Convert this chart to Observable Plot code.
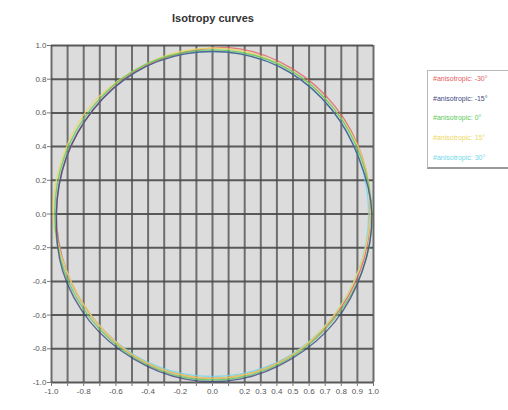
<!DOCTYPE html>
<html>
<head>
<meta charset="utf-8">
<script src="https://cdn.jsdelivr.net/npm/d3@7"></script>
<script src="https://cdn.jsdelivr.net/npm/@observablehq/plot@0.6"></script>
<style>
  html, body { margin: 0; padding: 0; background: #fff; overflow: hidden; }
  #wrap { position: relative; width: 508px; height: 410px; font-family: "Liberation Sans", Arial, sans-serif; }
  #title { position: absolute; left: 0; top: 0; width: 426px; height: 32px; line-height: 36px; text-align: center; font-weight: bold; font-size: 11px; color: #333; }
  #chart { position: absolute; left: 0; top: 32px; }
  #legend { position: absolute; left: 427px; top: 70px; width: 100px; height: 99px; background: #fff; border: 1px solid #b8b8b8; border-bottom: 2px solid #999; box-sizing: border-box; }
  #legend div { position: absolute; left: 5px; font-size: 7px; white-space: nowrap; }
</style>
</head>
<body>
<div id="wrap">
  <div id="title">Isotropy curves</div>
  <div id="chart"></div>
  <div id="legend"></div>
</div>
<script>
// Series names (legend)
const seriesNames = ["#anisotropic: -30°", "#anisotropic: -15°", "#anisotropic: 0°", "#anisotropic: 15°", "#anisotropic: 30°"];
const seriesColors = ["#e46060", "#404a80", "#5cc85c", "#ecd860", "#70d8e8"];

// Curve points (x, y)
const xM30 = [0.98, 0.93, 0.76, 0.50, 0.17, -0.17, -0.49, -0.74, -0.91, -0.97, -0.91, -0.74, -0.49, -0.17, 0.17, 0.49, 0.74, 0.92];
const yM30 = [0.00, 0.34, 0.64, 0.86, 0.98, 0.96, 0.84, 0.62, 0.33, 0.00, -0.33, -0.62, -0.84, -0.96, -0.96, -0.84, -0.63, -0.33];

const xM15 = [0.99, 0.91, 0.74, 0.48, 0.17, -0.17, -0.48, -0.74, -0.91, -0.97, -0.93, -0.76, -0.49, -0.17, 0.17, 0.49, 0.76, 0.93];
const yM15 = [0.00, 0.33, 0.62, 0.84, 0.95, 0.95, 0.84, 0.62, 0.33, 0.00, -0.34, -0.64, -0.86, -0.98, -0.98, -0.86, -0.64, -0.34];

const x0 = [0.99, 0.92, 0.75, 0.49, 0.17, -0.17, -0.49, -0.75, -0.92, -0.98, -0.92, -0.75, -0.49, -0.17, 0.17, 0.49, 0.75, 0.93];
const y0 = [0.00, 0.34, 0.63, 0.85, 0.96, 0.96, 0.85, 0.63, 0.34, 0.00, -0.34, -0.63, -0.85, -0.97, -0.97, -0.85, -0.63, -0.34];

const xP15 = [0.98, 0.93, 0.75, 0.49, 0.17, -0.17, -0.49, -0.76, -0.93, -0.99, -0.91, -0.74, -0.49, -0.17, 0.17, 0.49, 0.74, 0.91];
const yP15 = [0.00, 0.34, 0.63, 0.85, 0.97, 0.97, 0.85, 0.64, 0.34, 0.01, -0.33, -0.62, -0.84, -0.96, -0.96, -0.84, -0.62, -0.33];

const xP30 = [0.97, 0.91, 0.74, 0.48, 0.17, -0.17, -0.48, -0.74, -0.91, -0.97, -0.91, -0.74, -0.48, -0.17, 0.17, 0.48, 0.74, 0.91];
const yP30 = [0.00, 0.33, 0.62, 0.84, 0.95, 0.95, 0.84, 0.62, 0.33, 0.00, -0.33, -0.62, -0.84, -0.95, -0.95, -0.84, -0.62, -0.33];

// Axis ticks
const xGridTicks = [-1.0, -0.9, -0.8, -0.7, -0.6, -0.5, -0.4, -0.3, -0.2, -0.1, 0.0, 0.1, 0.2, 0.3, 0.4, 0.5, 0.6, 0.7, 0.8, 0.9, 1.0];
const xTickLabels = ["-1.0", "-0.8", "-0.6", "-0.4", "-0.2", "0.0", "0.2", "0.3", "0.4", "0.5", "0.6", "0.7", "0.8", "0.9", "1.0"];
const yTicks = [-1.0, -0.8, -0.6, -0.4, -0.2, 0.0, 0.2, 0.4, 0.6, 0.8, 1.0];

const seriesXY = [[xM30, yM30], [xM15, yM15], [x0, y0], [xP15, yP15], [xP30, yP30]];
const rows = [];
seriesXY.forEach(([xs, ys], i) => {
  xs.forEach((x, j) => rows.push({series: seriesNames[i], x, y: ys[j]}));
});
// drawing order: cyan, red, yellow, green, blue
const drawOrder = [4, 0, 3, 2, 1];

const fmt = d => d.toFixed(1);
const chart = Plot.plot({
  width: 400,
  height: 378,
  marginLeft: 51,
  marginRight: 27,
  marginTop: 13,
  marginBottom: 28,
  style: {fontFamily: "Liberation Sans, Arial, sans-serif", fontSize: "8px", color: "#555", background: "transparent"},
  x: {domain: [-1, 1], label: null},
  y: {domain: [-1, 1], label: null},
  color: {domain: seriesNames, range: seriesColors},
  marks: [
    Plot.frame({fill: "#dcdcdc", stroke: "#c8c8c8"}),
    Plot.gridX(xGridTicks, {stroke: "#5a5a5a", strokeOpacity: 0.85, strokeWidth: 2}),
    Plot.gridY(yTicks, {stroke: "#4a4a4a", strokeOpacity: 0.9, strokeWidth: 2}),
    ...drawOrder.map(i => Plot.line(rows.filter(r => r.series === seriesNames[i]), {
      x: "x", y: "y", stroke: "series", strokeWidth: 1.4, strokeOpacity: 0.8, curve: "catmull-rom-closed"
    })),
    Plot.axisX(xGridTicks, {tickSize: 4, stroke: "#777", fill: "#555", tickPadding: 2, label: null,
      tickFormat: d => xTickLabels.includes(fmt(d)) ? fmt(d) : ""}),
    Plot.axisY(yTicks, {tickSize: 4, stroke: "#777", fill: "#555", tickPadding: 1, label: null, tickFormat: fmt})
  ]
});
document.getElementById("chart").appendChild(chart);

const legend = document.getElementById("legend");
seriesNames.forEach((name, i) => {
  const d = document.createElement("div");
  d.textContent = name;
  d.style.color = seriesColors[i];
  d.style.top = (4 + i * 19.7) + "px";
  legend.appendChild(d);
});
</script>
</body>
</html>
